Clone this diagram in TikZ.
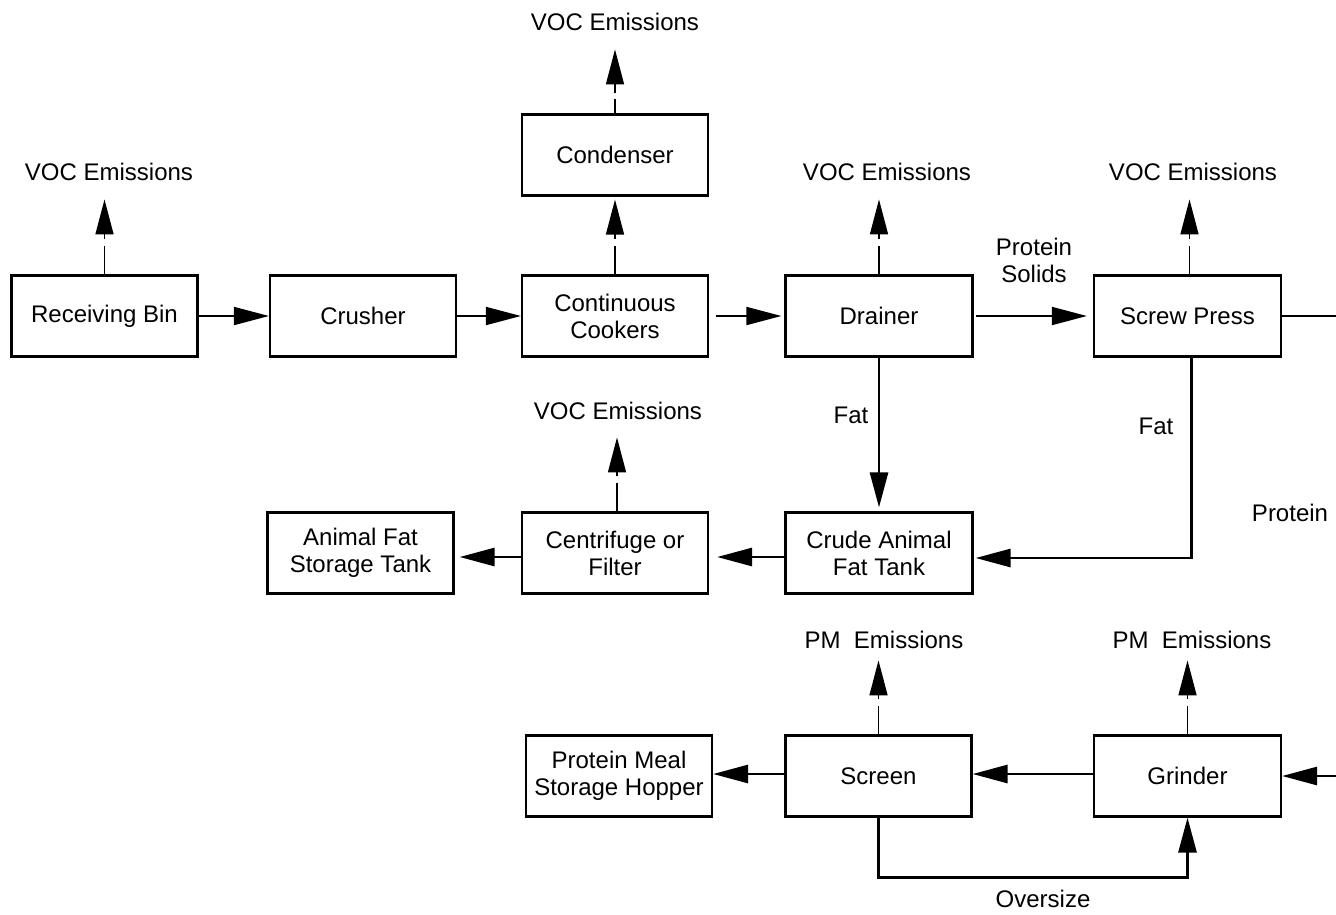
\documentclass[tikz,border=0pt]{standalone}
\usepackage{fontspec}
\setmainfont{Liberation Sans}
\usetikzlibrary{arrows.meta}
\begin{document}
\begin{tikzpicture}[x=1pt,y=-1pt,
  txt/.style={font=\fontsize{24}{27}\selectfont},
  box/.style={draw,line width=2.2pt,minimum width=186pt,minimum height=81pt,inner sep=0pt,align=center,txt},
  lbl/.style={inner sep=0pt,align=center,txt},
  tip/.style={-{Triangle[length=35pt,width=18pt]}},
  flow/.style={tip,line width=1.8pt},
  heavy/.style={tip,line width=2.8pt},
  plain/.style={line width=2.8pt},
  emis/.style={tip,line width=1.5pt,dash pattern=on 28pt off 7pt on 80pt},
]
\useasboundingbox (0,0) rectangle (1336,914);

% boxes
\node[box] (recv) at (104.5,316) {Receiving Bin};
\node[box] (crusher) at (363,316) {Crusher};
\node[box] (cookers) at (615,316) {Continuous\\Cookers};
\node[box] (condenser) at (615,155) {Condenser};
\node[box,minimum width=187pt] (drainer) at (879,316) {Drainer};
\node[box,minimum width=187pt] (screw) at (1187.5,316) {Screw Press};
\node[box] (afst) at (360.5,553) {Animal Fat\\Storage Tank};
\node[box] (centr) at (615,553) {Centrifuge or\\Filter};
\node[box,minimum width=187pt] (crude) at (879,553) {Crude Animal\\Fat Tank};
\node[box] (hopper) at (619,776) {Protein Meal\\Storage Hopper};
\node[box] (screen) at (878.5,776) {Screen};
\node[box,minimum width=187pt] (grinder) at (1187.5,776) {Grinder};

% labels
\node[lbl,anchor=base] (voc1) at (109,180) {VOC Emissions};
\node[lbl,anchor=base] (voc2) at (615,30) {VOC Emissions};
\node[lbl,anchor=base] (voc3) at (887,180) {VOC Emissions};
\node[lbl,anchor=base] (voc4) at (1193,180) {VOC Emissions};
\node[lbl,anchor=base] (voc5) at (618,419) {VOC Emissions};
\node[lbl,anchor=base] (pm1) at (884,648) {PM\ \ Emissions};
\node[lbl,anchor=base] (pm2) at (1192,648) {PM\ \ Emissions};
\node[lbl] (solids) at (1034,260.5) {Protein\\Solids};
\node[lbl] (fat1) at (851,415) {Fat};
\node[lbl] (fat2) at (1156,426) {Fat};
\node[lbl] (protein) at (1290,513) {Protein};
\node[lbl] (oversize) at (1043,899) {Oversize};

\coordinate (screwout) at (1336,316);
\coordinate (grindin) at (1336,776);

% main flow
\draw[flow] (recv.east) -- (crusher.west);
\draw[flow] (crusher.east) -- (cookers.west);
\draw[flow,shorten <=7pt,shorten >=3pt] (cookers.east) -- (drainer.west);
\draw[flow,shorten <=2pt,shorten >=6pt] (drainer.east) -- (screw.west);
\draw[plain] (screw.east) -- (screwout);
\draw[heavy] (grindin) -- (grinder.east);

% fat
\draw[heavy,shorten >=4pt] (drainer.south) -- (crude.north);
\draw[heavy,shorten >=2pt] ([xshift=4pt]screw.south) |- ([yshift=-5pt]crude.east);
\draw[heavy,shorten >=8pt] ([yshift=-4pt]crude.west) -- ([yshift=-4pt]centr.east);
\draw[heavy,shorten >=5pt] ([yshift=-4pt]centr.west) -- ([yshift=-4pt]afst.east);

% meal
\draw[heavy] ([yshift=2pt]grinder.west) -- ([yshift=2pt]screen.east);
\draw[heavy] ([yshift=2pt]screen.west) -- ([yshift=2pt]hopper.east);
\draw[heavy] (screen.south) -- ++(0,60) -| (grinder.south);

% emissions
\draw[emis,shorten >=19pt] (recv.north) -- (recv.north |- voc1.south);
\draw[emis,shorten >=3pt] (cookers.north) -- (condenser.south);
\draw[emis,dash pattern=on 14pt off 6pt on 80pt,shorten >=19pt] (condenser.north) -- (condenser.north |- voc2.south);
\draw[emis,shorten >=19pt] (drainer.north) -- (drainer.north |- voc3.south);
\draw[emis,shorten >=19pt] ([xshift=2pt]screw.north) -- ([xshift=2pt]screw.north |- voc4.south);
\draw[emis,shorten >=18pt] ([xshift=2pt]centr.north) -- ([xshift=2pt]centr.north |- voc5.south);
\draw[emis,shorten >=12pt] (screen.north) -- (screen.north |- pm1.south);
\draw[emis,shorten >=12pt] (grinder.north) -- (grinder.north |- pm2.south);
\end{tikzpicture}
\end{document}
